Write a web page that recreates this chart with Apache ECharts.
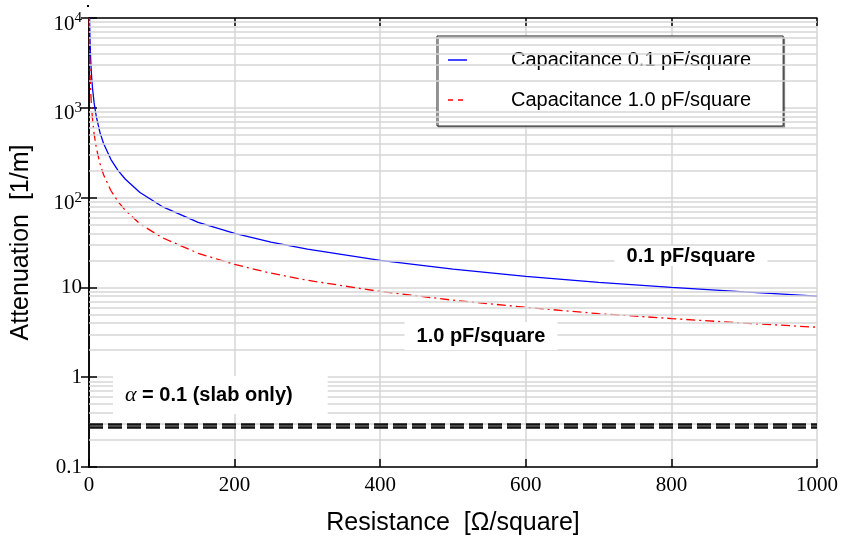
<!DOCTYPE html>
<html><head><meta charset="utf-8">
<script src="https://cdn.jsdelivr.net/npm/echarts@6/dist/echarts.min.js"></script>
<style>html,body{margin:0;padding:0;background:#fff}#c{width:841px;height:544px}</style>
</head><body><div id="c"></div>
<script>
// ---- data ----
const resistanceBlue  = [0.8, 1, 1.5, 2, 3, 4, 5, 7, 10, 15, 20, 30, 40, 50, 70, 100, 150, 200, 250, 300, 400, 500, 600, 700, 800, 900, 1000];
const attenuationBlue = [10000, 8000, 5300, 4000, 2670, 2000, 1600, 1140, 800, 533, 400, 267, 200, 160, 114, 80, 53, 40, 32, 26.7, 20, 16, 13.3, 11.4, 10, 8.9, 8];
const resistanceRed   = [0.36, 0.5, 0.8, 1, 1.5, 2, 3, 4, 5, 7, 10, 15, 20, 30, 40, 50, 70, 100, 150, 200, 250, 300, 400, 500, 600, 700, 800, 900, 1000];
const attenuationRed  = [10000, 7200, 4500, 3600, 2400, 1800, 1200, 900, 720, 514, 360, 240, 180, 120, 90, 72, 51, 36, 24, 18, 14.4, 12, 9, 7.2, 6, 5.1, 4.5, 4, 3.6];
const slabAttenuation = [0.305, 0.282];
const seriesNames = ['Capacitance 0.1 pF/square', 'Capacitance 1.0 pF/square'];
const xTickValues = [0, 200, 400, 600, 800, 1000];
const xTickLabels = ['0', '200', '400', '600', '800', '1000'];
const yTickLabels = ['0.1', '1', '10', '{b|10}{s|2}', '{b|10}{s|3}', '{b|10}{s|4}'];
const annotations = ['0.1 pF/square', '1.0 pF/square'];
const slabLabel = '{a|α}{t| = 0.1 (slab only)}';

// ---- helpers ----
const SERIF = "'Liberation Serif', 'Times New Roman', serif";
const SANS = "'Liberation Sans', Arial, Helvetica, sans-serif";
const minorGrid = [];
for (let k = -1; k <= 3; k++) for (let m = 2; m <= 9; m++) minorGrid.push(+(m * Math.pow(10, k)).toPrecision(3));
const zip = (xs, ys) => xs.map((x, i) => [x, ys[i]]);

const chart = echarts.init(document.getElementById('c'), null, {renderer: 'canvas'});
const frameLine = {show: true, lineStyle: {color: '#000', width: 1.5}};
const tickStyle = {show: true, inside: true, length: 8, lineStyle: {color: '#000', width: 1.5}};
const noSymbol = {color: 'rgba(0,0,0,0)', borderWidth: 0, opacity: 0};
const option = {
  animation: false,
  backgroundColor: '#fff',
  grid: {left: 89, right: 23, top: 18, bottom: 77, containLabel: false},
  xAxis: [{
    type: 'value', min: xTickValues[0], max: xTickValues[xTickValues.length - 1], interval: 200,
    position: 'bottom',
    name: 'Resistance  [Ω/square]', nameLocation: 'middle', nameGap: 44,
    nameTextStyle: {fontFamily: SANS, fontSize: 25, color: '#000'},
    axisLine: frameLine, axisTick: tickStyle,
    axisLabel: {fontFamily: SERIF, fontSize: 21, color: '#000', margin: 8,
      formatter: v => xTickLabels[xTickValues.indexOf(Math.round(v))]},
    splitLine: {show: true, lineStyle: {color: '#d6d6d6', width: 1.5}}
  }, {
    type: 'value', min: 0, max: 1000, interval: 200, position: 'top',
    axisLine: frameLine, axisTick: tickStyle,
    axisLabel: {show: false}, splitLine: {show: false}
  }],
  yAxis: [{
    type: 'log', logBase: 10, min: 0.1, max: 10000, position: 'left',
    name: 'Attenuation  [1/m]', nameLocation: 'middle', nameGap: 55,
    nameTextStyle: {fontFamily: SANS, fontSize: 25, color: '#000'},
    axisLine: frameLine, axisTick: tickStyle,
    axisLabel: {
      margin: 7, color: '#000', fontFamily: SERIF, fontSize: 21,
      formatter: v => yTickLabels[Math.round(Math.log10(v)) + 1],
      rich: {
        b: {fontFamily: SERIF, fontSize: 21, color: '#000', padding: [12, 0, 0, 0]},
        s: {fontFamily: SERIF, fontSize: 15, color: '#000', padding: [0, 0, 0, 0]}
      }
    },
    splitLine: {show: true, lineStyle: {color: '#d6d6d6', width: 1.5}}
  }, {
    type: 'log', logBase: 10, min: 0.1, max: 10000, position: 'right',
    axisLine: frameLine, axisTick: tickStyle,
    axisLabel: {show: false}, splitLine: {show: false}
  }],
  legend: {
    show: true, orient: 'vertical', left: 437, top: 36,
    padding: [14, 32, 16, 10], itemGap: 20, itemWidth: 19, itemHeight: 14,
    backgroundColor: '#fff', borderColor: '#222', borderWidth: 1,
    shadowColor: 'rgba(0,0,0,0.4)', shadowOffsetX: 1.5, shadowOffsetY: 1.5, shadowBlur: 0,
    textStyle: {fontFamily: SANS, fontSize: 20, color: '#000', lineHeight: 20, padding: [0, 0, 0, 39]},
    data: [
      {name: seriesNames[0], itemStyle: noSymbol, lineStyle: {color: '#4545ff', width: 2, type: 'solid'}},
      {name: seriesNames[1], itemStyle: noSymbol, lineStyle: {color: '#ff0000', width: 1.5, type: [5, 5]}}
    ]
  },
  series: [
    {
      name: 'grid-helper', type: 'line', data: [], z: 1, silent: true,
      markLine: {
        silent: true, symbol: ['none', 'none'], label: {show: false},
        lineStyle: {color: '#d6d6d6', width: 1.5, type: 'solid'},
        data: minorGrid.map(v => ({yAxis: v}))
      }
    },
    {
      name: 'slab', type: 'line', data: [], z: 4, silent: true,
      markLine: {
        silent: true, symbol: ['none', 'none'], label: {show: false},
        lineStyle: {color: '#111', width: 2.5, type: [14, 5]},
        data: slabAttenuation.map(v => ({yAxis: v}))
      }
    },
    {
      name: seriesNames[0], type: 'line', z: 3, symbol: 'none',
      data: zip(resistanceBlue, attenuationBlue),
      lineStyle: {color: '#0000ff', width: 1.3, type: 'solid'}, itemStyle: {color: '#0000ff'}
    },
    {
      name: seriesNames[1], type: 'line', z: 3, symbol: 'none',
      data: zip(resistanceRed, attenuationRed),
      lineStyle: {color: '#ff0000', width: 1.3, type: [9, 4, 2, 4]}, itemStyle: {color: '#ff0000'}
    }
  ],
  graphic: [
    {type: 'text', z: 50, x: 691, y: 256, style: {
      text: annotations[0], font: 'bold 20px ' + SANS, fill: '#000', align: 'center', verticalAlign: 'middle',
      backgroundColor: '#fff', padding: [0, 12, 0, 12]}},
    {type: 'text', z: 50, x: 481, y: 336, style: {
      text: annotations[1], font: 'bold 20px ' + SANS, fill: '#000', align: 'center', verticalAlign: 'middle',
      backgroundColor: '#fff', padding: [4, 12, 4, 12]}},
    {type: 'text', z: 50, x: 113, y: 395, style: {
      text: slabLabel, align: 'left', verticalAlign: 'middle',
      backgroundColor: '#fff', padding: [8, 35, 8, 12],
      rich: {
        a: {fontFamily: SERIF, fontStyle: 'italic', fontSize: 22, fill: '#000'},
        t: {fontFamily: SANS, fontWeight: 'bold', fontSize: 20, fill: '#000'}
      }}},
    {type: 'rect', z: 50, shape: {x: 87, y: 5, width: 2, height: 2}, style: {fill: '#000'}}
  ]
};
chart.setOption(option);
</script>
</body></html>
